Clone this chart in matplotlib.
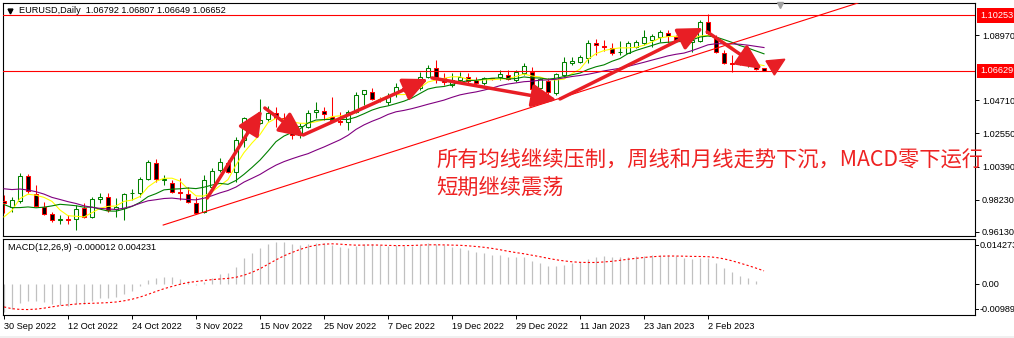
import numpy as np
import pandas as pd
import matplotlib
matplotlib.use('Agg')
import matplotlib.pyplot as plt
import matplotlib.transforms as mtransforms
from matplotlib.patches import Rectangle, FancyArrowPatch, Polygon
from matplotlib.lines import Line2D

W, H = 1014, 338

# EURUSD daily, 30 Sep 2022 .. 13 Feb 2023
opens = [0.9815, 0.9776, 0.9815, 0.9978, 0.9860, 0.9776, 0.9730, 0.9691, 0.9697, 0.9697,
         0.9769, 0.9710, 0.9828, 0.9841, 0.9763, 0.9769, 0.9864, 0.9867, 0.9958, 1.0062,
         0.9952, 0.9932, 0.9871, 0.9860, 0.9802, 0.9743, 0.9906, 1.0017, 1.0062, 1.0004,
         1.0213, 1.0352, 1.0322, 1.0350, 1.0388, 1.0356, 1.0325, 1.0242, 1.0297, 1.0398,
         1.0401, 1.0364, 1.0336, 1.0330, 1.0395, 1.0512, 1.0526, 1.0480, 1.0460, 1.0512,
         1.0552, 1.0539, 1.0552, 1.0623, 1.0682, 1.0617, 1.0571, 1.0604, 1.0623, 1.0604,
         1.0584, 1.0614, 1.0623, 1.0636, 1.0604, 1.0649, 1.0656, 1.0552, 1.0597, 1.0519,
         1.0636, 1.0714, 1.0721, 1.0750, 1.0845, 1.0825, 1.0812, 1.0783, 1.0780, 1.0819,
         1.0845, 1.0864, 1.0884, 1.0910, 1.0884, 1.0858, 1.0851, 1.0858, 1.0982, 1.0877,
         1.0780, 1.0714, 1.0721, 1.0708, 1.0695, 1.06792]
highs = [0.9854, 0.9841, 0.9997, 0.9991, 0.9919, 0.9808, 0.9743, 0.9723, 0.9723, 0.9789,
         0.9802, 0.9841, 0.9867, 0.9867, 0.9834, 0.9867, 0.9893, 0.9971, 1.0082, 1.0089,
         0.9984, 0.9952, 0.9965, 0.9906, 0.9841, 0.9984, 1.0030, 1.0095, 1.0082, 1.0232,
         1.0362, 1.0365, 1.0480, 1.0437, 1.0427, 1.0390, 1.0331, 1.0320, 1.0408, 1.0460,
         1.0427, 1.0493, 1.0395, 1.0408, 1.0526, 1.0539, 1.0552, 1.0493, 1.0519, 1.0584,
         1.0584, 1.0565, 1.0656, 1.0701, 1.0734, 1.0649, 1.0649, 1.0656, 1.0649, 1.0623,
         1.0623, 1.0617, 1.0669, 1.0669, 1.0669, 1.0714, 1.0688, 1.0617, 1.0617, 1.0649,
         1.0754, 1.0754, 1.0767, 1.0864, 1.0871, 1.0864, 1.0845, 1.0858, 1.0858, 1.0864,
         1.0930, 1.0904, 1.0930, 1.0930, 1.0897, 1.0877, 1.0877, 1.0995, 1.1034, 1.0897,
         1.0799, 1.0767, 1.0754, 1.0773, 1.0714, 1.06807]
lows = [0.9736, 0.9743, 0.9802, 0.9867, 0.9776, 0.9723, 0.9678, 0.9665, 0.9665, 0.9626,
        0.9704, 0.9704, 0.9802, 0.9743, 0.9710, 0.9691, 0.9821, 0.9841, 0.9952, 0.9939,
        0.9919, 0.9867, 0.9821, 0.9802, 0.9730, 0.9736, 0.9887, 1.0004, 0.9997, 0.9939,
        1.0167, 1.0272, 1.0315, 1.0335, 1.0297, 1.0290, 1.0219, 1.0226, 1.0291, 1.0356,
        1.0343, 1.0330, 1.0310, 1.0278, 1.0388, 1.0441, 1.0473, 1.0460, 1.0441, 1.0493,
        1.0526, 1.0519, 1.0539, 1.0617, 1.0584, 1.0571, 1.0558, 1.0584, 1.0584, 1.0571,
        1.0571, 1.0604, 1.0604, 1.0604, 1.0591, 1.0636, 1.0519, 1.0539, 1.0493, 1.0506,
        1.0623, 1.0701, 1.0714, 1.0714, 1.0767, 1.0793, 1.0767, 1.0767, 1.0777, 1.0812,
        1.0832, 1.0819, 1.0851, 1.0845, 1.0851, 1.0845, 1.0786, 1.0851, 1.0897, 1.0780,
        1.0708, 1.0656, 1.0701, 1.0688, 1.0669, 1.06649]
closes = [0.9801, 0.9821, 0.9978, 0.9880, 0.9782, 0.9730, 0.9691, 0.9697, 0.9694, 0.9763,
          0.9710, 0.9828, 0.9841, 0.9756, 0.9776, 0.9860, 0.9870, 0.9958, 1.0069, 0.9958,
          0.9958, 0.9874, 0.9864, 0.9808, 0.9736, 0.9952, 1.0010, 1.0069, 1.0004, 1.0213,
          1.0356, 1.0322, 1.0345, 1.0390, 1.0356, 1.0317, 1.0242, 1.0303, 1.0388, 1.0408,
          1.0382, 1.0343, 1.0330, 1.0395, 1.0506, 1.0539, 1.0480, 1.0473, 1.0493, 1.0558,
          1.0539, 1.0552, 1.0623, 1.0682, 1.0623, 1.0591, 1.0604, 1.0623, 1.0597, 1.0584,
          1.0617, 1.0607, 1.0643, 1.0610, 1.0656, 1.0695, 1.0545, 1.0610, 1.0526, 1.0643,
          1.0721, 1.0728, 1.0754, 1.0845, 1.0832, 1.0819, 1.0780, 1.0789, 1.0845, 1.0851,
          1.0884, 1.0890, 1.0917, 1.0890, 1.0864, 1.0851, 1.0864, 1.0982, 1.0910, 1.0786,
          1.0714, 1.0711, 1.0708, 1.0728, 1.0675, 1.06652]

# closes before the first visible bar (Aug-Sep 2022), only to warm up MA / MACD
prior_closes = [1.0260, 1.0165, 1.0130, 1.0245, 1.0180, 1.0195, 1.0212, 1.0297, 1.0320, 1.0259,
                1.0160, 1.0170, 1.0178, 1.0085, 1.0040, 0.9942, 0.9967, 0.9970, 0.9975, 0.9966,
                1.0000, 1.0015, 1.0055, 0.9945, 0.9953, 0.9927, 0.9904, 1.0015, 0.9998, 1.0041,
                1.0122, 0.9970, 0.9980, 0.9999, 1.0015, 1.0027, 0.9973, 0.9837, 0.9837, 0.9690,
                0.9607, 0.9594, 0.9737, 0.9815]

ma_periods = [5, 10, 20]
ma_colors = ['#ffff00', '#008000', '#800080']

hlines = [1.10253, 1.06629]
price_ticks = [1.08970, 1.04710, 1.02550, 1.00390, 0.98230, 0.96130]
macd_readout = (-0.000012, 0.004231)
macd_top, macd_bottom = 0.014273, -0.00989

# trend line and the hand drawn arrows (bar index, price)
trend = [(19.9, 0.9658), (106.75, 1.1106)]
arrows = [
    ((25.4, 0.9834), (32.25, 1.0408)),
    ((32.6, 1.0421), (37.5, 1.0232)),
    ((37.4, 1.0245), (53.0, 1.0610)),
    ((53.5, 1.0617), (69.1, 1.0473)),
    ((69.5, 1.0480), (87.4, 1.0943)),
    ((87.9, 1.0917), (94.75, 1.0675)),
]
end_marker = [(95.25, 1.0728), (97.6, 1.0739), (96.3, 1.0636)]

note_lines = ['所有均线继续压制，周线和月线走势下沉，MACD零下运行', '短期继续震荡']

# dates: business days, 2 Jan 2023 has no bar on this feed
dates = pd.bdate_range('2022-09-30', '2023-02-13')
dates = dates[dates != pd.Timestamp('2023-01-02')]

plt.rcParams['font.family'] = ['Liberation Sans', 'DejaVu Sans']
FS = 6.6
RED = '#ff0000'
ARROW_RED = '#e81e25'

o = np.array(opens); h = np.array(highs); l = np.array(lows); c = np.array(closes)
n = len(c)
x = np.arange(n)

all_close = pd.Series(prior_closes + closes)
mas = [all_close.rolling(p).mean().values[-n:] for p in ma_periods]
ema12 = all_close.ewm(span=12, adjust=False).mean()
ema26 = all_close.ewm(span=26, adjust=False).mean()
macd = ema12 - ema26
signal = macd.rolling(9).mean()
macd = macd.values[-n:]
signal = signal.values[-n:]

fig = plt.figure(figsize=(W / 100, H / 100), dpi=100)
ax = fig.add_axes([3 / W, 1 - 236 / H, 972 / W, 233 / H])
ax2 = fig.add_axes([3 / W, 1 - 315 / H, 972 / W, 76 / H])

xlim = (-0.125, 121.375)
ax.set_xlim(*xlim)
ax.set_ylim(1.11252 - 0.000652 * 236, 1.11252 - 0.000652 * 3)
ax2.set_xlim(*xlim)
ax2.set_ylim(macd_bottom, macd_top)

# candles
bw = 0.6
for i in range(n):
    up = c[i] >= o[i]
    col = '#008000' if up else RED
    ax.vlines(i, l[i], h[i], color=col, lw=0.75, zorder=2)
    bottom = min(o[i], c[i])
    height = max(abs(c[i] - o[i]), 0.00005)
    ax.add_patch(Rectangle((i - bw / 2, bottom), bw, height,
                           facecolor='white' if up else 'black', edgecolor=col,
                           lw=0.75, zorder=3))

for ma, col in zip(mas, ma_colors):
    ax.plot(x, ma, color=col, lw=0.8, zorder=4)

for lv in hlines:
    ax.axhline(lv, color=RED, lw=0.8, zorder=4)

ax.plot([p[0] for p in trend], [p[1] for p in trend], color=RED, lw=0.8, zorder=4)

for start, end in arrows:
    ax.add_patch(FancyArrowPatch(start, end,
                                 arrowstyle='-|>,head_length=15,head_width=7',
                                 mutation_scale=1, lw=2.5, color=ARROW_RED,
                                 shrinkA=0, shrinkB=0, zorder=6))
ax.add_patch(Polygon(end_marker, closed=True, color=ARROW_RED, zorder=6))

# right price scale
ax.yaxis.tick_right()
ax.set_yticks(price_ticks)
ax.set_yticklabels([f'{v:.5f}' for v in price_ticks])
ax.tick_params(axis='y', direction='out', length=3, width=0.7, pad=2, labelsize=FS)
ax.set_xticks([])
trans = mtransforms.blended_transform_factory(fig.transFigure, ax.transData)
for lv in hlines:
    ax.text(980 / W, lv, f'{lv:.5f}', transform=trans, ha='left', va='center',
            fontsize=FS, color='white', clip_on=False,
            bbox=dict(boxstyle='square,pad=0.3', fc=RED, ec='none'))

# MACD pane
ax2.vlines(x, 0, macd, color='#c0c0c0', lw=0.9)
ax2.plot(x, signal, color=RED, lw=0.8, ls=(0, (2, 2)))
ax2.yaxis.tick_right()
ax2.set_yticks([0.0])
ax2.set_yticklabels(['0.00'])
ax2.tick_params(axis='y', direction='out', length=3, width=0.7, pad=2, labelsize=FS)
for val, ypix in [(macd_top, 245), (macd_bottom, 309)]:
    fig.text(980 / W, 1 - ypix / H, f'{val:g}' if val < 0 else f'{val:.6f}',
             ha='left', va='center', fontsize=FS)
    fig.add_artist(Line2D([975 / W, 978 / W], [1 - ypix / H] * 2, color='k', lw=0.7,
                          transform=fig.transFigure))

tick_idx = list(range(0, 89, 8))
ax2.set_xticks(tick_idx)
ax2.set_xticklabels([f'{dates[i].day} {dates[i]:%b %Y}' for i in tick_idx])
for lab in ax2.get_xticklabels():
    lab.set_ha('left')
ax2.tick_params(axis='x', direction='out', length=3, width=0.7, pad=2, labelsize=FS)

for a in (ax, ax2):
    for s in a.spines.values():
        s.set_linewidth(0.8)
        s.set_color('black')

# header texts
fig.add_artist(Line2D([10 / W], [1 - 10.5 / H], marker='v', color='black', ms=3.5,
                      transform=fig.transFigure))
fig.text(19 / W, 1 - 10.5 / H,
         f'EURUSD,Daily  {o[-1]:.5f} {h[-1]:.5f} {l[-1]:.5f} {c[-1]:.5f}',
         ha='left', va='center', fontsize=FS)
fig.text(8 / W, 1 - 247 / H, f'MACD(12,26,9) {macd_readout[0]:.6f} {macd_readout[1]:.6f}',
         ha='left', va='center', fontsize=FS)
fig.add_artist(Line2D([779.5 / W], [1 - 4.5 / H], marker='v', color='#a0a0a0', ms=5,
                      transform=fig.transFigure))

for k, line in enumerate(note_lines):
    fig.text(436 / W, 1 - (160 + 28 * k) / H, line, ha='left', va='center',
             fontsize=15.3, color='#ee2222',
             family=['Noto Sans CJK SC', 'DejaVu Sans'])

fig.add_artist(Rectangle((0, 0), 1, 2 / H, transform=fig.transFigure,
                         fc='#f0f0f0', ec='none'))

fig.savefig('out.png', dpi=100)
